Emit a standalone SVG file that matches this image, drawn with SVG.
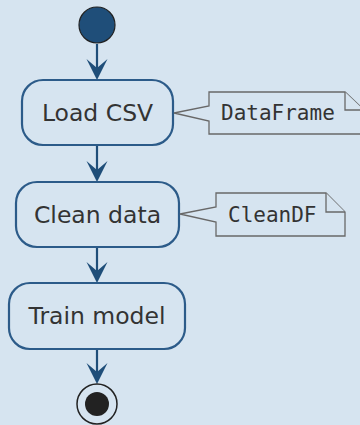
<svg xmlns="http://www.w3.org/2000/svg" width="360" height="425" viewBox="0 0 360 425">
  <style>
    .act { fill: #d6e4f0; stroke: #2c5b89; stroke-width: 2.2; }
    .act-label { font-family: "DejaVu Sans", sans-serif; font-size: 23.5px; fill: #333333; text-anchor: middle; }
    .note { fill: #d6e4f0; stroke: #686868; stroke-width: 1.3; }
    .note-label { font-family: "DejaVu Sans Mono", monospace; font-size: 21px; fill: #333333; }
    .flow { stroke: #1f4e79; stroke-width: 2.2; fill: none; }
    .head { fill: #1f4e79; stroke: none; }
  </style>
  <defs>
    <path id="arrowhead" d="M0 0 L-10.5 -21 L0 -12 L10.5 -21 Z"/>
  </defs>
  <rect width="360" height="425" fill="#d6e4f0"/>

  <g id="connectors">
    <line class="flow" x1="97" y1="44" x2="97" y2="72"/>
    <use href="#arrowhead" class="head" x="97" y="80"/>
    <line class="flow" x1="97" y1="145" x2="97" y2="174"/>
    <use href="#arrowhead" class="head" x="97" y="182"/>
    <line class="flow" x1="97" y1="247" x2="97" y2="275"/>
    <use href="#arrowhead" class="head" x="97" y="283"/>
    <line class="flow" x1="97" y1="349" x2="97" y2="376"/>
    <use href="#arrowhead" class="head" x="97" y="384"/>
  </g>

  <g id="start">
    <circle cx="97" cy="25" r="18" fill="#1f4e79" stroke="#222222" stroke-width="1.2"/>
  </g>

  <g id="load-csv">
    <rect class="act" x="22" y="80" width="151" height="65" rx="21"/>
    <text class="act-label" x="97.5" y="121">Load CSV</text>
  </g>

  <g id="note-dataframe">
    <path class="note" d="M174 113 L209 106 L209 92 L345 92 L364 110 L364 134 L209 134 L209 121 Z"/>
    <path class="note" d="M345 92 L345 110 L364 110" fill="none"/>
    <text class="note-label" x="221" y="120">DataFrame</text>
  </g>

  <g id="clean-data">
    <rect class="act" x="16" y="182" width="163" height="65" rx="21"/>
    <text class="act-label" x="97.5" y="223">Clean data</text>
  </g>

  <g id="note-cleandf">
    <path class="note" d="M180 214 L216 207 L216 193 L326 193 L345 212 L345 236 L216 236 L216 222 Z"/>
    <path class="note" d="M326 193 L326 212 L345 212" fill="none"/>
    <text class="note-label" x="228" y="222">CleanDF</text>
  </g>

  <g id="train-model">
    <rect class="act" x="9" y="283" width="176" height="66" rx="21"/>
    <text class="act-label" x="97" y="324">Train model</text>
  </g>

  <g id="end">
    <circle cx="97" cy="404" r="20" fill="none" stroke="#222222" stroke-width="1.5"/>
    <circle cx="97" cy="404" r="12" fill="#222222"/>
  </g>
</svg>
